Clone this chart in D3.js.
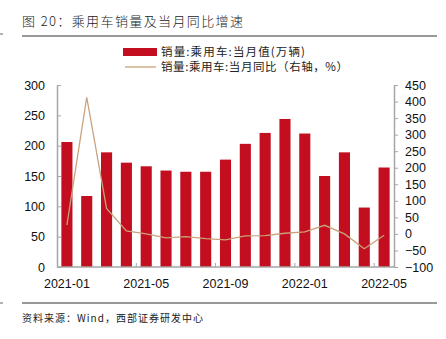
<!DOCTYPE html>
<html><head><meta charset="utf-8">
<script src="https://cdn.jsdelivr.net/npm/d3@7"></script>
<style>
body{margin:0;background:#fff;}
svg text{font-family:"Liberation Sans",Arial,"Noto Sans CJK SC",sans-serif;}
.cjk{font-family:"Noto Sans CJK SC",sans-serif;}
</style></head>
<body>
<svg id="c" width="446" height="339"></svg>
<script>
const months = ["2021-01","2021-02","2021-03","2021-04","2021-05","2021-06","2021-07","2021-08","2021-09","2021-10","2021-11","2021-12","2022-01","2022-02","2022-03","2022-04","2022-05"];
const salesValues = [206,117,189,172,166,159,157,157,177,203,221,244,220,150,189,98,164];
const yoyValues = [27,413,77,9,0,-12,-8,-14,-18,-6,-5,2,6,26,0,-45,-4];
const xTickLabels = ["2021-01","2021-05","2021-09","2022-01","2022-05"];
const leftTicks = [0,50,100,150,200,250,300];
const rightTicks = [-100,-50,0,50,100,150,200,250,300,350,400,450];

const svg = d3.select("#c");
const L = 57, R = 394, T = 85, B = 267;
const axisColor = "#a6a6a6";
const barColor = "#c20e1f";
const lineColor = "#c9a27c";

// title
svg.append("text").attr("class","cjk").attr("x",22).attr("y",26).attr("font-size",13).attr("fill","#222")
  .attr("font-weight",300).attr("textLength",221).attr("lengthAdjust","spacing")
  .text("图 20：乘用车销量及当月同比增速");
svg.append("line").attr("x1",22).attr("x2",437).attr("y1",36).attr("y2",36).attr("stroke","#333").attr("stroke-width",1);
svg.append("line").attr("x1",0).attr("x2",3).attr("y1",34).attr("y2",34).attr("stroke","#666");
svg.append("line").attr("x1",22).attr("x2",437).attr("y1",303).attr("y2",303).attr("stroke","#333").attr("stroke-width",1);
svg.append("line").attr("x1",0).attr("x2",3).attr("y1",303).attr("y2",303).attr("stroke","#666");
svg.append("text").attr("class","cjk").attr("x",22).attr("y",322).attr("font-size",10).attr("fill","#222")
  .attr("textLength",181).attr("lengthAdjust","spacing")
  .text("资料来源：Wind，西部证券研发中心");

// legend
svg.append("rect").attr("x",123).attr("y",48).attr("width",34).attr("height",8).attr("fill",barColor);
svg.append("text").attr("class","cjk").attr("x",161).attr("y",56).attr("font-size",11.5).attr("fill","#222")
  .attr("textLength",144).attr("lengthAdjust","spacing")
  .text("销量:乘用车:当月值(万辆)");
svg.append("line").attr("x1",125).attr("x2",156).attr("y1",67).attr("y2",67).attr("stroke",lineColor).attr("stroke-width",1.3);
svg.append("text").attr("class","cjk").attr("x",161).attr("y",71).attr("font-size",11.5).attr("fill","#222")
  .attr("textLength",187).attr("lengthAdjust","spacing")
  .text("销量:乘用车:当月同比（右轴，%）");

const x = d3.scaleBand().domain(months).range([L,R]).paddingInner(0.44).paddingOuter(0.22);
const yL = d3.scaleLinear().domain([0,300]).range([B,T]);
const yR = d3.scaleLinear().domain([-100,450]).range([B,T]);

// bars
svg.append("g").selectAll("rect").data(months).join("rect")
  .attr("x",d=>x(d)).attr("width",x.bandwidth())
  .attr("y",(d,i)=>yL(salesValues[i])).attr("height",(d,i)=>B-yL(salesValues[i]))
  .attr("fill",barColor);

// line
const line = d3.line().x((d,i)=>x(months[i])+x.bandwidth()/2).y(d=>yR(d));
svg.append("path").datum(yoyValues).attr("d",line).attr("fill","none").attr("stroke",lineColor).attr("stroke-width",1.3);

// left axis
const gL = svg.append("g").attr("transform",`translate(${L},0)`)
  .call(d3.axisLeft(yL).tickValues(leftTicks).tickSizeInner(-4).tickSizeOuter(0).tickPadding(12));
// right axis
const gR = svg.append("g").attr("transform",`translate(${R},0)`)
  .call(d3.axisRight(yR).tickValues(rightTicks).tickSizeInner(4).tickSizeOuter(0).tickPadding(7));
[gL,gR].forEach(g=>{
  g.select(".domain").attr("stroke",axisColor).attr("stroke-width",1.5);
  g.selectAll(".tick line").attr("stroke",axisColor);
  g.selectAll(".tick text").attr("font-size",12.5).attr("fill","#111").attr("font-family","Liberation Sans, Arial, sans-serif");
});

// bottom axis
const step = x.step();
svg.append("line").attr("x1",L).attr("x2",R).attr("y1",B).attr("y2",B).attr("stroke",axisColor).attr("stroke-width",1.5);
const bTicks = months.filter((d,i)=>i>0 && i%4===0);
svg.append("g").selectAll("line").data(bTicks).join("line")
  .attr("x1",d=>x(d)-step*x.paddingInner()/2).attr("x2",d=>x(d)-step*x.paddingInner()/2)
  .attr("y1",B).attr("y2",B-4).attr("stroke",axisColor);
svg.append("g").selectAll("text").data(xTickLabels).join("text")
  .attr("x",d=>x(d)+x.bandwidth()/2).attr("y",288).attr("text-anchor","middle")
  .attr("font-size",12.5).attr("fill","#111").text(d=>d);
</script>
</body></html>
